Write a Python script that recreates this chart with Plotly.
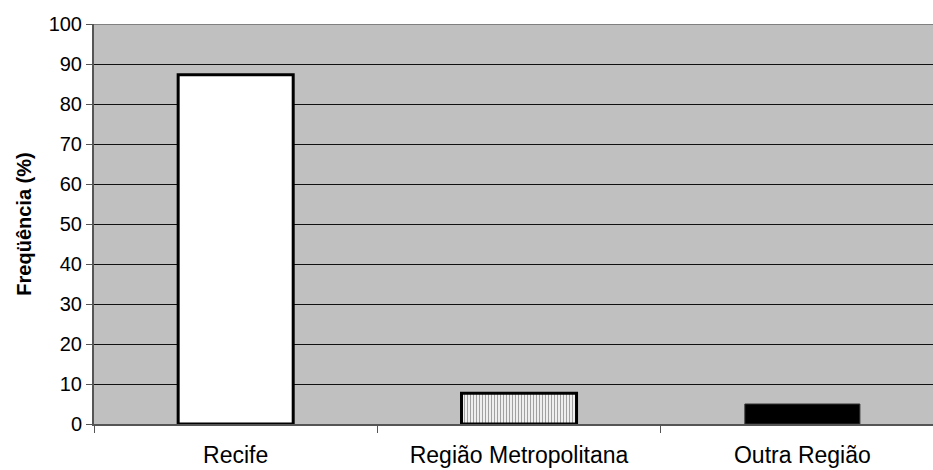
import plotly.graph_objects as go

# Origin of respondents (percent)
categories = ["Recife", "Região Metropolitana", "Outra Região"]
frequencies = [87.3, 7.7, 5.0]
y_ticks = [0, 10, 20, 30, 40, 50, 60, 70, 80, 90, 100]

fill_colors = ["#FFFFFF", "#FFFFFF", "#000000"]
line_colors = ["#000000", "#000000", "#333333"]
line_widths = [3, 3, 1]
pattern_shapes = ["", "|", ""]

FONT = "Liberation Sans, Arial, sans-serif"

fig = go.Figure(
    go.Bar(
        x=categories,
        y=frequencies,
        marker=dict(
            color=fill_colors,
            line=dict(color=line_colors, width=line_widths),
            pattern=dict(
                shape=pattern_shapes,
                fgcolor="#3a3a3a",
                bgcolor="#FFFFFF",
                size=3,
                solidity=0.45,
            ),
        ),
        hoverinfo="skip",
    )
)

fig.update_layout(
    width=933,
    height=470,
    margin=dict(l=94, r=0, t=24, b=46),
    paper_bgcolor="#FFFFFF",
    plot_bgcolor="#C0C0C0",
    bargap=0.594,
    showlegend=False,
    font=dict(family=FONT, color="#000000"),
    xaxis=dict(
        type="category",
        range=[-0.5, 2.461],
        automargin=False,
        showgrid=False,
        tickson="boundaries",
        ticks="outside",
        ticklen=7,
        tickcolor="#555555",
        tickwidth=1,
        showline=True,
        linecolor="#555555",
        linewidth=2,
        tickfont=dict(size=23, family=FONT),
        ticklabelstandoff=9,
        zeroline=False,
    ),
    yaxis=dict(
        range=[0, 100],
        tickvals=y_ticks,
        automargin=False,
        ticks="outside",
        ticklen=6,
        tickcolor="#555555",
        tickwidth=1,
        showline=True,
        linecolor="#555555",
        linewidth=2,
        showgrid=True,
        gridcolor="#111111",
        gridwidth=1,
        zeroline=False,
        tickfont=dict(size=20, family=FONT),
        title=dict(
            text="<b>Freqüência (%)</b>",
            font=dict(size=20, family=FONT),
            standoff=12,
        ),
    ),
    shapes=[
        dict(
            type="line",
            xref="paper",
            yref="y",
            x0=0,
            x1=1,
            y0=100,
            y1=100,
            line=dict(color="#808080", width=2),
            layer="above",
        )
    ],
)

fig.write_html("out.html")
